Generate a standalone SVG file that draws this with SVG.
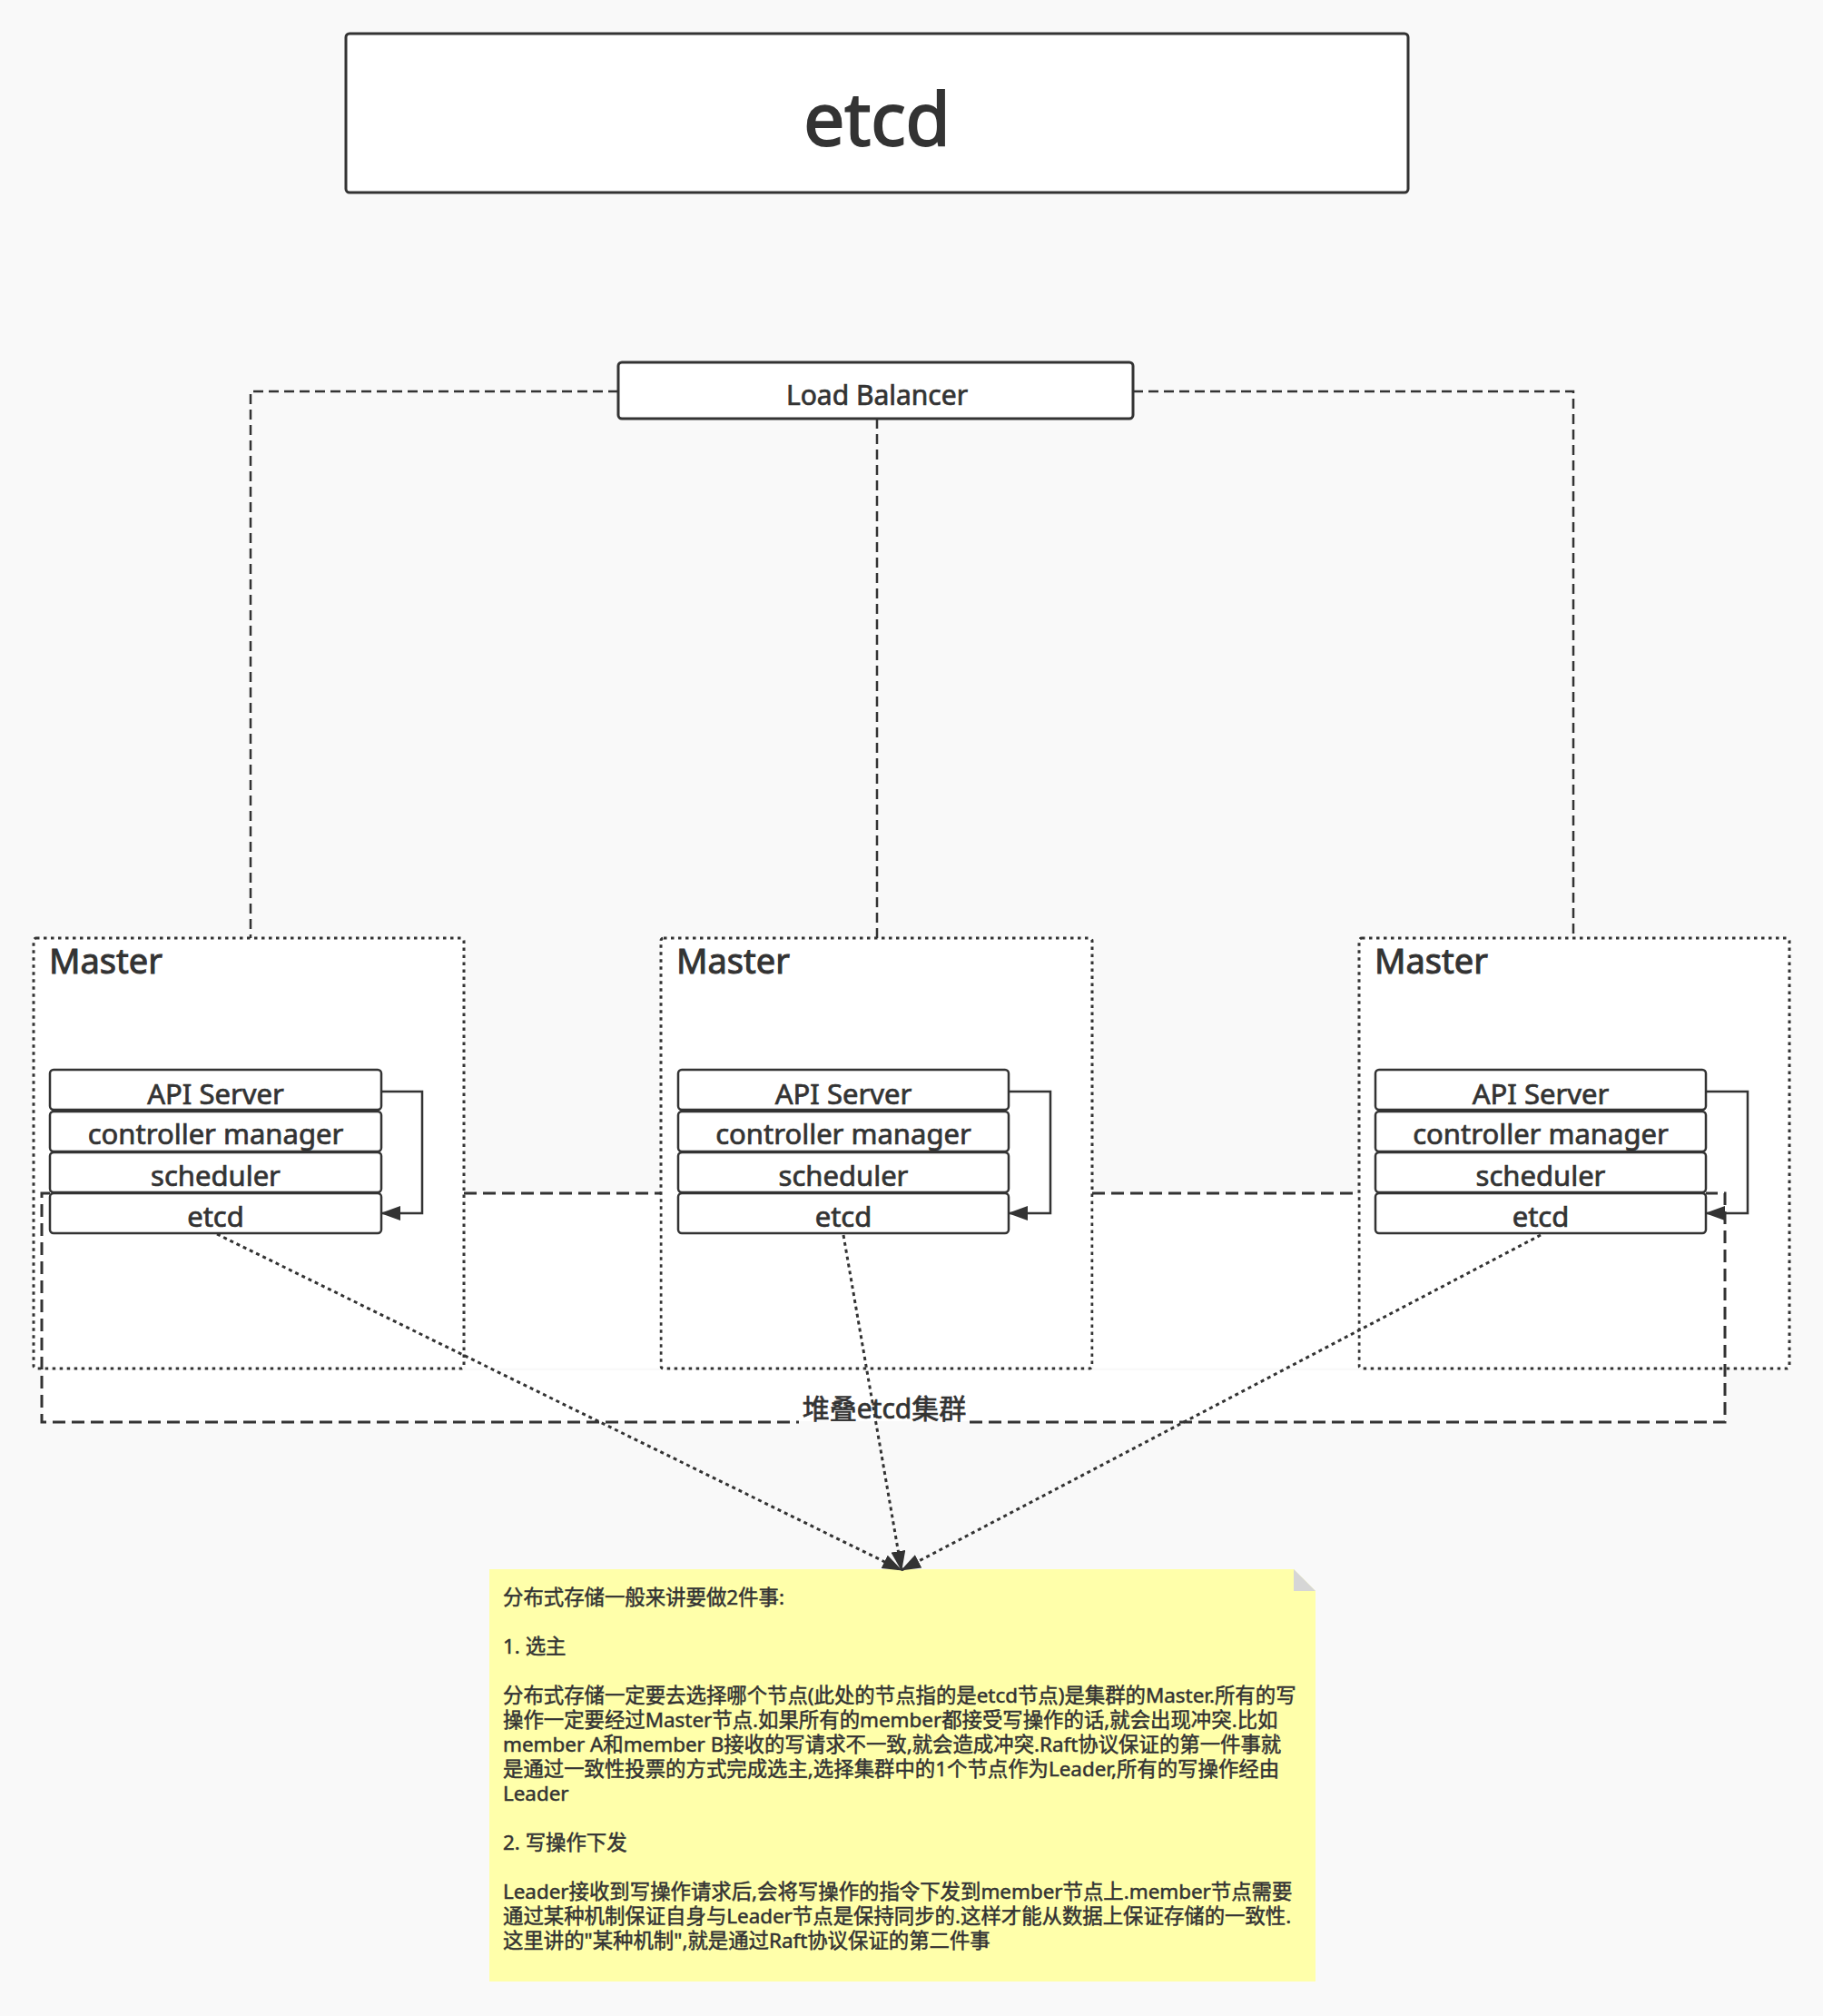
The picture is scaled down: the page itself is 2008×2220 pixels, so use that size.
<svg xmlns="http://www.w3.org/2000/svg" width="2008" height="2220" viewBox="0 0 2008 2220">
<defs>
<style>
.t{font-family:"Noto Sans","Noto Sans CJK SC",sans-serif;fill:#333333;stroke:#333333;stroke-width:0.7}
.box{fill:#ffffff;stroke:#333333;stroke-width:3}
.ibox{fill:#ffffff;stroke:#333333;stroke-width:2.5}
.master{fill:#ffffff;stroke:#333333;stroke-width:3;stroke-dasharray:3.5 4.5}
.lb{fill:none;stroke:#333333;stroke-width:2.5;stroke-dasharray:11 6}
.cl{fill:none;stroke:#333333;stroke-width:3;stroke-dasharray:14 7}
.loop{fill:none;stroke:#333333;stroke-width:2.5}
.dot{fill:none;stroke:#333333;stroke-width:3;stroke-dasharray:4 4}
.c{text-anchor:middle}
</style>
<marker id="arr" markerUnits="userSpaceOnUse" viewBox="0 0 22 16" refX="21" refY="8" markerWidth="22" markerHeight="16" orient="auto">
<path d="M0,0 L22,8 L0,16 Z" fill="#333333" stroke="none"/>
</marker>
</defs>
<rect x="0" y="0" width="2008" height="2220" fill="#f9f9f9"/>

<g id="title">
<rect class="box" x="381" y="37" width="1170" height="175" rx="4"/>
<text class="t c" x="966" y="160" font-size="80" style="stroke-width:2">etcd</text>
</g>

<g id="load-balancer">
<rect class="box" x="681" y="399" width="567" height="62" rx="4"/>
<text class="t c" x="966" y="446" font-size="30">Load Balancer</text>
</g>

<g id="lb-connectors">
<path class="lb" d="M681,431 H276 V1033"/>
<path class="lb" d="M1248,431 H1733 V1033"/>
<path class="lb" d="M966,461 V1033"/>
</g>

<g id="master-1">
<rect class="master" x="37" y="1033" width="474" height="474" rx="3"/>
<text class="t" x="54" y="1072" font-size="38" style="stroke-width:1">Master</text>
</g>
<g id="master-2">
<rect class="master" x="728" y="1033" width="475" height="474" rx="3"/>
<text class="t" x="745" y="1072" font-size="38" style="stroke-width:1">Master</text>
</g>
<g id="master-3">
<rect class="master" x="1497" y="1033" width="474" height="474" rx="3"/>
<text class="t" x="1514" y="1072" font-size="38" style="stroke-width:1">Master</text>
</g>

<g id="etcd-cluster">
<rect x="513" y="1315.5" width="213.5" height="191" fill="#ffffff"/>
<rect x="1204.5" y="1315.5" width="291" height="191" fill="#ffffff"/>
<rect x="47.5" y="1509" width="1851" height="56" fill="#ffffff"/>
<path class="cl" d="M55,1314 H46 V1566 H880"/>
<path class="cl" d="M1068,1566 H1900 V1314 H1879"/>
<path class="cl" d="M511,1314 H728"/>
<path class="cl" d="M1203,1314 H1497"/>
<text class="t c" x="974" y="1562" font-size="30">堆叠etcd集群</text>
</g>

<g id="stack-1">
<rect class="ibox" x="55" y="1178" width="365" height="44" rx="4"/>
<text class="t c" x="237.5" y="1216" font-size="31">API Server</text>
<rect class="ibox" x="55" y="1224" width="365" height="44" rx="4"/>
<text class="t c" x="237.5" y="1260" font-size="31">controller manager</text>
<rect class="ibox" x="55" y="1269" width="365" height="44" rx="4"/>
<text class="t c" x="237.5" y="1306" font-size="31">scheduler</text>
<rect class="ibox" x="55" y="1314" width="365" height="44" rx="4"/>
<text class="t c" x="237.5" y="1351" font-size="31">etcd</text>
</g>
<g id="stack-2">
<rect class="ibox" x="747" y="1178" width="364" height="44" rx="4"/>
<text class="t c" x="929" y="1216" font-size="31">API Server</text>
<rect class="ibox" x="747" y="1224" width="364" height="44" rx="4"/>
<text class="t c" x="929" y="1260" font-size="31">controller manager</text>
<rect class="ibox" x="747" y="1269" width="364" height="44" rx="4"/>
<text class="t c" x="929" y="1306" font-size="31">scheduler</text>
<rect class="ibox" x="747" y="1314" width="364" height="44" rx="4"/>
<text class="t c" x="929" y="1351" font-size="31">etcd</text>
</g>
<g id="stack-3">
<rect class="ibox" x="1515" y="1178" width="364" height="44" rx="4"/>
<text class="t c" x="1697" y="1216" font-size="31">API Server</text>
<rect class="ibox" x="1515" y="1224" width="364" height="44" rx="4"/>
<text class="t c" x="1697" y="1260" font-size="31">controller manager</text>
<rect class="ibox" x="1515" y="1269" width="364" height="44" rx="4"/>
<text class="t c" x="1697" y="1306" font-size="31">scheduler</text>
<rect class="ibox" x="1515" y="1314" width="364" height="44" rx="4"/>
<text class="t c" x="1697" y="1351" font-size="31">etcd</text>
</g>

<g id="note">
<path d="M539,1728 H1425 L1449,1752 V2182 H539 Z" fill="#ffffaa"/>
<path d="M1425,1728 V1752 H1449 Z" fill="#d6d6d6"/>
<g class="t" font-size="22.4" style="stroke-width:0.5">
<text x="554" y="1767">分布式存储一般来讲要做2件事:</text>
<text x="554" y="1821">1. 选主</text>
<text x="554" y="1875">分布式存储一定要去选择哪个节点(此处的节点指的是etcd节点)是集群的Master.所有的写</text>
<text x="554" y="1902">操作一定要经过Master节点.如果所有的member都接受写操作的话,就会出现冲突.比如</text>
<text x="554" y="1929">member A和member B接收的写请求不一致,就会造成冲突.Raft协议保证的第一件事就</text>
<text x="554" y="1956">是通过一致性投票的方式完成选主,选择集群中的1个节点作为Leader,所有的写操作经由</text>
<text x="554" y="1983">Leader</text>
<text x="554" y="2037">2. 写操作下发</text>
<text x="554" y="2091">Leader接收到写操作请求后,会将写操作的指令下发到member节点上.member节点需要</text>
<text x="554" y="2118">通过某种机制保证自身与Leader节点是保持同步的.这样才能从数据上保证存储的一致性.</text>
<text x="554" y="2145">这里讲的"某种机制",就是通过Raft协议保证的第二件事</text>
</g>
</g>

<g id="connectors">
<path class="loop" d="M420,1202 H465 V1336 H420" marker-end="url(#arr)"/>
<path class="loop" d="M1111,1202 H1157 V1336 H1111" marker-end="url(#arr)"/>
<path class="loop" d="M1879,1202 H1925 V1336 H1879" marker-end="url(#arr)"/>
<path class="dot" d="M239,1359 L993,1729" marker-end="url(#arr)"/>
<path class="dot" d="M929,1360 L993,1729" marker-end="url(#arr)"/>
<path class="dot" d="M1697,1360 L993,1729" marker-end="url(#arr)"/>
</g>
</svg>
